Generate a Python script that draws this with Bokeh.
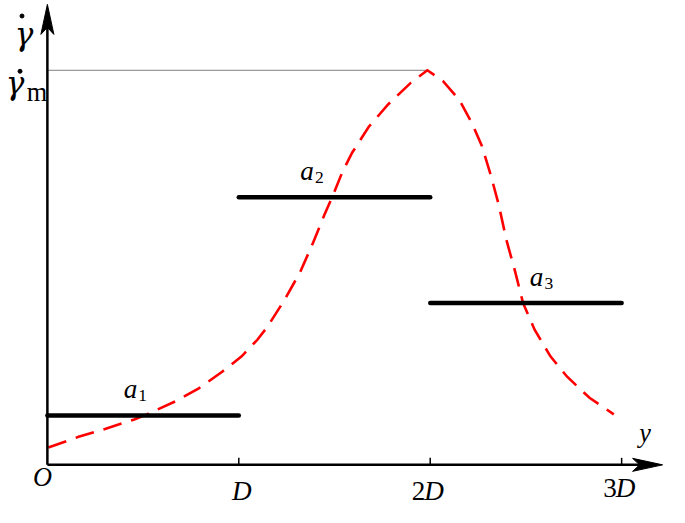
from bokeh.plotting import figure
from bokeh.models import Range1d
from bokeh.core.properties import value
from bokeh.embed import file_html
from bokeh.resources import INLINE

# ---- data (horizontal unit: D, vertical unit: gamma_dot_m) ----
curve_t = [0.005, 0.163, 0.301, 0.454, 0.520, 0.673, 0.791, 0.913, 1.015, 1.097,
           1.148, 1.235, 1.321, 1.388, 1.449, 1.490, 1.541, 1.592, 1.679, 1.781,
           1.898, 1.985, 2.066, 2.153, 2.219, 2.270, 2.316, 2.357, 2.398, 2.444,
           2.485, 2.546, 2.628, 2.714, 2.832, 2.959]
curve_v = [0.044, 0.071, 0.091, 0.115, 0.128, 0.162, 0.194, 0.236, 0.275, 0.317,
           0.349, 0.415, 0.489, 0.563, 0.636, 0.681, 0.742, 0.791, 0.857, 0.914,
           0.968, 1.000, 0.973, 0.924, 0.865, 0.808, 0.735, 0.661, 0.570, 0.489,
           0.410, 0.342, 0.275, 0.224, 0.170, 0.128]

seg_sub = ["1", "2", "3"]
seg_start = [0.0, 1.0, 2.0]
seg_end = [1.0, 2.0, 3.0]
seg_level = [0.125, 0.678, 0.410]
seg_label_t = [0.434, 1.357, 2.556]

peak_t = 1.985
peak_v = 1.0

tick_t = [1.0, 2.0, 3.0]
tick_prefix = ["", "2", "3"]
tick_label_drop = [38, 38, 35]

x_range = (-0.2449, 3.2500)
v_range = (-0.1081, 1.1769)
x_axis_end = 3.214
v_axis_end = 1.167

W, H = 669, 507
SX, SY = W / 685, H / 523
S = (SX + SY) / 2
PX_T = W / (x_range[1] - x_range[0])   # canvas pixels per D
PX_V = H / (v_range[1] - v_range[0])   # canvas pixels per unit
BASE_FIX = 0.40                         # baseline correction, in em

p = figure(width=W, height=H, output_backend="svg", toolbar_location=None,
           x_range=Range1d(*x_range), y_range=Range1d(*v_range),
           min_border=0, outline_line_color=None)
p.axis.visible = False
p.grid.visible = False
p.background_fill_color = "white"
p.border_fill_color = "white"

# grey reference line at gamma_m
p.line([0, peak_t], [peak_v, peak_v], line_color="#808080", line_width=1)

# red dashed curve
p.line(curve_t, curve_v, line_color="#ff0000", line_width=2.6,
       line_dash="19 10", line_join="miter")

# black segments
p.segment(x0=seg_start, y0=seg_level, x1=seg_end, y1=seg_level,
          line_color="black", line_width=4.5, line_cap="round")

# axes
p.line([0, 0], [0, v_axis_end - 20 / PX_V], line_color="black", line_width=2.5)
p.line([0, x_axis_end - 20 / PX_T], [0, 0], line_color="black", line_width=2.5)

# ticks
p.segment(x0=tick_t, y0=[0] * 3, x1=tick_t, y1=[7 / PX_V] * 3,
          line_color="black", line_width=1.5)

# arrow heads (notched)
L, Wd, N = 30, 6.5, 23
p.patch([0, -Wd / PX_T, 0, Wd / PX_T],
        [v_axis_end, v_axis_end - L / PX_V, v_axis_end - N / PX_V, v_axis_end - L / PX_V],
        fill_color="black", line_color="black", line_width=1)
p.patch([x_axis_end, x_axis_end - L / PX_T, x_axis_end - N / PX_T, x_axis_end - L / PX_T],
        [0, Wd / PX_V, 0, -Wd / PX_V],
        fill_color="black", line_color="black", line_width=1)


def label(x, y, txt, size, italic=True, align="center", xo=0, yo=0,
          font="Liberation Serif"):
    fs = size * S
    p.text(x=[x], y=[y], text=[txt], text_font=value(font),
           text_font_size=f"{fs:.1f}px",
           text_font_style="italic" if italic else "normal",
           text_align=align, text_baseline="alphabetic",
           x_offset=xo * SX, y_offset=yo * SY - BASE_FIX * fs,
           text_color="black")


# segment labels a_i
for t, v, s in zip(seg_label_t, seg_level, seg_sub):
    label(t, v, "a", 28, True, "center", 0, -16)
    label(t, v, s, 18, False, "left", 8, -13)

# x tick labels
label(0, 0, "O", 27, True, "center", -5, 24)
for t, pre, d in zip(tick_t, tick_prefix, tick_label_drop):
    if pre:
        label(t, 0, pre, 28, False, "right", -5, d)
        label(t, 0, "D", 28, True, "left", -6, d)
    else:
        label(t, 0, "D", 28, True, "center", 3, d)

# axis names
label(3.0, 0, "y", 27, True, "center", 24, -22)
# gamma-dot (top) and gamma-dot_m
label(0, peak_v, "\u03b3", 32, True, "center", -24, -25, font="DejaVu Serif")
label(0, peak_v, "\u03b3", 32, True, "center", -33, 26, font="DejaVu Serif")
label(0, peak_v, "m", 27, False, "left", -21, 34)

# the time-derivative dots above the two gammas
dot_xo = [-26, -28]
dot_yo = [-56, 1]
p.scatter(x=[xo * SX / PX_T for xo in dot_xo],
          y=[peak_v - yo * SY / PX_V for yo in dot_yo],
          size=4, marker="circle", fill_color="black", line_color="black")

open("out.html", "w").write(file_html(p, INLINE))
